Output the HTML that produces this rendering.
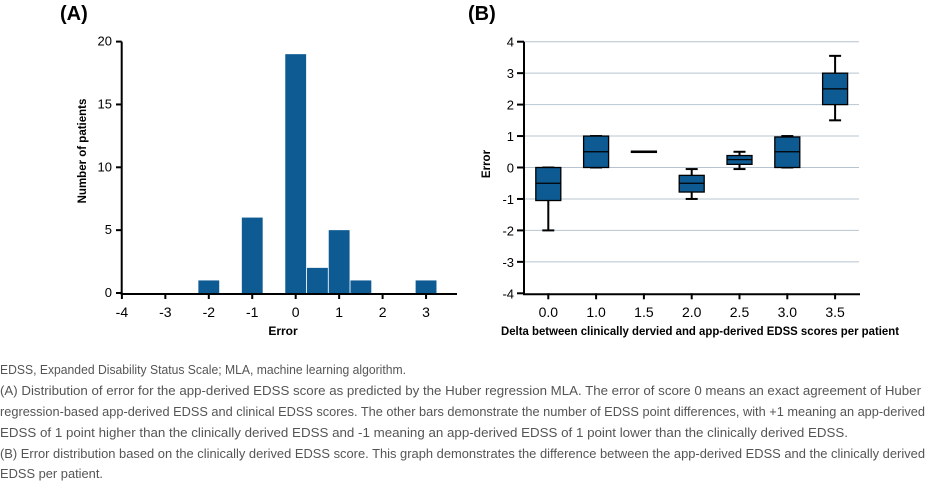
<!DOCTYPE html>
<html><head><meta charset="utf-8"><style>
html,body{margin:0;padding:0;background:#fff;}
svg{display:block;font-family:"Liberation Sans",sans-serif;}
</style></head><body>
<svg id="root" width="940" height="482" viewBox="0 0 940 482">
<text x="60" y="20" font-size="20" font-weight="bold">(A)</text>
<text x="468" y="20" font-size="20" font-weight="bold">(B)</text>
<g id="chartA"></g>
<g id="chartB"></g>
<g fill="#555" font-size="12.5">
<text x="0" y="374" textLength="406" lengthAdjust="spacingAndGlyphs">EDSS, Expanded Disability Status Scale; MLA, machine learning algorithm.</text>
<text x="0" y="395" textLength="921" lengthAdjust="spacingAndGlyphs">(A) Distribution of error for the app-derived EDSS score as predicted by the Huber regression MLA. The error of score 0 means an exact agreement of Huber</text>
<text x="0" y="416" textLength="925" lengthAdjust="spacingAndGlyphs">regression-based app-derived EDSS and clinical EDSS scores. The other bars demonstrate the number of EDSS point differences, with +1 meaning an app-derived</text>
<text x="0" y="437" textLength="848" lengthAdjust="spacingAndGlyphs">EDSS of 1 point higher than the clinically derived EDSS and -1 meaning an app-derived EDSS of 1 point lower than the clinically derived EDSS.</text>
<text x="0" y="458" textLength="925" lengthAdjust="spacingAndGlyphs">(B) Error distribution based on the clinically derived EDSS score. This graph demonstrates the difference between the app-derived EDSS and the clinically derived</text>
<text x="0" y="478" textLength="103" lengthAdjust="spacingAndGlyphs">EDSS per patient.</text>
</g>
</svg>
<script>
const NS="http://www.w3.org/2000/svg";
// Chart A data
const histBins=[-2,-1,0,0.5,1,1.5,3];
const histCounts=[1,6,19,2,5,1,1];
const histXTicks=[-4,-3,-2,-1,0,1,2,3];
const histYTicks=[0,5,10,15,20];
// Chart B data
const boxCats=["0.0","1.0","1.5","2.0","2.5","3.0","3.5"];
const boxMin=[-2,0,0.5,-1,-0.05,0,1.5];
const boxQ1=[-1.05,0,0.48,-0.78,0.1,0,2];
const boxMed=[-0.5,0.5,0.5,-0.5,0.25,0.5,2.5];
const boxQ3=[0,1,0.52,-0.25,0.38,0.97,3];
const boxMax=[0,1,0.5,-0.05,0.5,1,3.55];
const boxYTicks=[-4,-3,-2,-1,0,1,2,3,4];

function mk(tag,attrs,parent,text){const e=document.createElementNS(NS,tag);for(const k in attrs)e.setAttribute(k,attrs[k]);if(text!==undefined)e.textContent=text;parent.appendChild(e);return e;}

// Chart A
const gA=document.getElementById('chartA');
const ax=v=>295.7+(v)*43.45;
const ay=v=>293-v*12.57;
histBins.forEach((b,i)=>{
  const r=mk('rect',{x:ax(b-0.24),y:ay(histCounts[i]),width:0.48*43.45,height:ay(0)-ay(histCounts[i]),fill:'#0e5a92'},gA);
  
  
});
const ya=mk('path',{d:`M121.7 ${ay(20)} V${ay(0)+1} H457`,stroke:'#000','stroke-width':2,fill:'none'},gA);

histYTicks.forEach(t=>{
  mk('line',{x1:116,x2:121.7,y1:ay(t),y2:ay(t),stroke:'#000','stroke-width':2},gA);
  const tx=mk('text',{x:112,y:ay(t)+4,'font-size':13,'text-anchor':'end'},gA,String(t));
  
});
histXTicks.forEach(t=>{
  mk('line',{x1:ax(t),x2:ax(t),y1:ay(0),y2:ay(0)+6,stroke:'#000','stroke-width':2},gA);
  const tx=mk('text',{x:ax(t),y:317,'font-size':14,'text-anchor':'middle'},gA,String(t));
  
});
let t1=mk('text',{x:283,y:335,'font-size':12,'font-weight':'bold','text-anchor':'middle'},gA,'Error');

t1=mk('text',{x:0,y:0,'font-size':11.5,'font-weight':'bold','text-anchor':'middle',transform:'translate(86,151) rotate(-90)'},gA,'Number of patients');


// Chart B
const gB=document.getElementById('chartB');
const bx=i=>548.3+i*47.8;
const by=v=>167.5-v*31.45;
boxYTicks.forEach(t=>{
  if(t!==-4){const g=mk('line',{x1:524,x2:859,y1:by(t),y2:by(t),stroke:'#b7c4d0','stroke-width':1},gB);
  }
  mk('line',{x1:517,x2:524,y1:by(t),y2:by(t),stroke:'#000','stroke-width':2},gB);
  const tx=mk('text',{x:514,y:by(t)+5,'font-size':13,'text-anchor':'end'},gB,String(t));
  
});
const axB=mk('path',{d:`M524 ${by(4)} V${by(-4)+1} H860`,stroke:'#000','stroke-width':2,fill:'none'},gB);

boxCats.forEach((c,i)=>{
  const x=bx(i);
  mk('line',{x1:x,x2:x,y1:by(-4),y2:by(-4)+6,stroke:'#000','stroke-width':2},gB);
  const tx=mk('text',{x:x,y:317,'font-size':14,'text-anchor':'middle'},gB,c);
  
  const g=mk('g',{},gB);
  
  
  const w=12.5;
  mk('line',{x1:x,x2:x,y1:by(boxMax[i]),y2:by(boxMin[i]),stroke:'#000','stroke-width':2},g);
  mk('line',{x1:x-6,x2:x+6,y1:by(boxMax[i]),y2:by(boxMax[i]),stroke:'#000','stroke-width':2},g);
  mk('line',{x1:x-6,x2:x+6,y1:by(boxMin[i]),y2:by(boxMin[i]),stroke:'#000','stroke-width':2},g);
  mk('rect',{x:x-w,y:by(boxQ3[i]),width:2*w,height:Math.max(1,by(boxQ1[i])-by(boxQ3[i])),fill:'#0e5a92',stroke:'#000','stroke-width':1.3},g);
  mk('line',{x1:x-w,x2:x+w,y1:by(boxMed[i]),y2:by(boxMed[i]),stroke:'#000','stroke-width':1.2},g);
});
t1=mk('text',{x:700,y:335,'font-size':11.5,'font-weight':'bold','text-anchor':'middle','textLength':398,'lengthAdjust':'spacingAndGlyphs'},gB,'Delta between clinically dervied and app-derived EDSS scores per patient');

t1=mk('text',{x:0,y:0,'font-size':11.5,'font-weight':'bold','text-anchor':'middle',transform:'translate(490,164) rotate(-90)'},gB,'Error');

</script>
</body></html>
